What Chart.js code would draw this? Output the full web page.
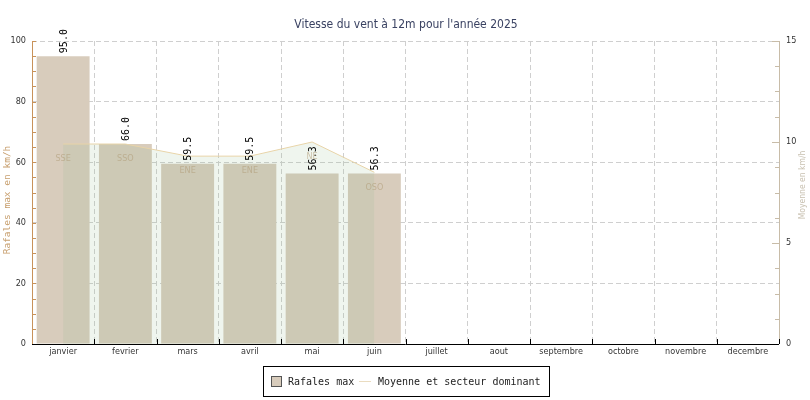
<!DOCTYPE html>
<html>
<head>
<meta charset="utf-8">
<script src="https://cdn.jsdelivr.net/npm/chart.js@4.4.1/dist/chart.umd.min.js"></script>
<style>
  body{ margin:0; background:#fff; }
  #graphe{ display:block; }
</style>
</head>
<body>
<canvas id="graphe" width="810" height="400"></canvas>
<script>
var mois = ['janvier','fevrier','mars','avril','mai','juin','juillet','aout','septembre','octobre','novembre','decembre'];
var rafalesMax = [95.0, 66.0, 59.5, 59.5, 56.3, 56.3, null, null, null, null, null, null];
var moyenne = [9.9, 9.9, 9.3, 9.3, 10.0, 8.5, null, null, null, null, null, null];
var secteurs = ['SSE','SSO','ENE','ENE','NE','OSO','','','','','',''];
var ticksRafales = [0, 20, 40, 60, 80, 100];
var ticksMoyenne = [0, 5, 10, 15];

var sansC = "'DejaVu Sans Condensed', 'DejaVu Sans', sans-serif";
var mono = "'DejaVu Sans Mono', monospace";

// tout ce que Chart.js ne fait pas tout seul : axes, petites graduations, etiquettes, legende
var habillage = {
    id: 'habillage',
    afterDatasetsDraw(chart){
        const ctx = chart.ctx;
        // valeurs des rafales, verticales au dessus des barres
        const barres = chart.getDatasetMeta(0).data;
        ctx.save();
        ctx.font = '10px ' + mono;
        ctx.fillStyle = '#000';
        ctx.textAlign = 'left';
        ctx.textBaseline = 'middle';
        barres.forEach(function(b, i){
            if(rafalesMax[i] == null) return;
            ctx.save();
            ctx.translate(b.x + 1, b.y - 3);
            ctx.rotate(-Math.PI/2);
            ctx.fillText(rafalesMax[i].toFixed(1), 0, 0);
            ctx.restore();
        });
        // secteur dominant sous la ligne de moyenne
        const pts = chart.getDatasetMeta(1).data;
        ctx.font = '9px ' + sansC;
        ctx.fillStyle = 'rgba(176,156,120,0.6)';
        ctx.textAlign = 'center';
        pts.forEach(function(p, i){
            if(moyenne[i] == null) return;
            ctx.fillText(secteurs[i], p.x, p.y + 15);
        });
        ctx.restore();
    },
    afterDraw(chart){
        const ctx = chart.ctx;
        const { left, right, top, bottom } = chart.chartArea;
        const y = chart.scales.y, y2 = chart.scales.y2, x = chart.scales.x;
        ctx.save();
        ctx.lineWidth = 1;

        // graduations gauche (vers l'interieur)
        ctx.strokeStyle = '#c8925a';
        ctx.beginPath();
        for(let v = 0; v <= 100; v += 5){
            const py = Math.round(y.getPixelForValue(v)) + 0.5;
            ctx.moveTo(left, py); ctx.lineTo(left + 4, py);
        }
        ctx.moveTo(left + 0.5, top); ctx.lineTo(left + 0.5, bottom);
        ctx.stroke();

        // graduations droite
        ctx.strokeStyle = '#c8bca8';
        ctx.beginPath();
        for(let v = 0; v <= 15; v += 1.25){
            const py = Math.round(y2.getPixelForValue(v)) + 0.5;
            const l = (v % 5 === 0) ? 7 : 4;
            ctx.moveTo(right, py); ctx.lineTo(right - l, py);
        }
        ctx.moveTo(right + 0.5, top); ctx.lineTo(right + 0.5, bottom);
        ctx.stroke();

        // axe x noir
        ctx.strokeStyle = '#000';
        ctx.beginPath();
        ctx.moveTo(left, bottom + 0.5); ctx.lineTo(right, bottom + 0.5);
        const pas = (right - left) / mois.length;
        for(let i = 1; i <= mois.length; i++){
            const px = Math.round(left + i * pas) + 0.5;
            ctx.moveTo(px, bottom); ctx.lineTo(px, bottom - 5);
        }
        ctx.stroke();

        // titre
        ctx.fillStyle = '#3a4262';
        ctx.font = '12px ' + sansC;
        ctx.textAlign = 'center';
        ctx.textBaseline = 'middle';
        ctx.fillText("Vitesse du vent \u00e0 12m pour l'ann\u00e9e 2025", 406, 25);

        // titres des axes
        ctx.save();
        ctx.translate(8, 200);
        ctx.rotate(-Math.PI/2);
        ctx.fillStyle = '#c8a070';
        ctx.font = '9.5px ' + mono;
        ctx.fillText('Rafales max en km/h', 0, 0);
        ctx.restore();
        ctx.save();
        ctx.translate(803, 185);
        ctx.rotate(-Math.PI/2);
        ctx.fillStyle = '#c8c0b0';
        ctx.font = '8.5px ' + sansC;
        ctx.fillText('Moyenne en km/h', 0, 0);
        ctx.restore();

        // legende
        ctx.strokeStyle = '#000';
        ctx.strokeRect(263.5, 366.5, 286, 30);
        ctx.fillStyle = 'rgb(216,204,188)';
        ctx.fillRect(271, 376, 10, 10);
        ctx.strokeStyle = '#555';
        ctx.strokeRect(271.5, 376.5, 10, 10);
        ctx.strokeStyle = '#eadcc0';
        ctx.beginPath();
        ctx.moveTo(359, 381.5); ctx.lineTo(371, 381.5);
        ctx.stroke();
        ctx.fillStyle = '#222';
        ctx.font = '10px ' + mono;
        ctx.textAlign = 'left';
        ctx.fillText('Rafales max', 288, 382);
        ctx.fillText('Moyenne et secteur dominant', 378, 382);
        ctx.restore();
    }
};

var grille = { color: '#cfcfcf', lineWidth: 1, drawTicks: false };
var bordure = { display: false, dash: [5, 3] };

var config = {
    type: 'bar',
    data: {
        labels: mois,
        datasets: [{
            label: 'Rafales max',
            data: rafalesMax,
            yAxisID: 'y',
            backgroundColor: 'rgb(216,204,188)',
            borderWidth: 0,
            categoryPercentage: 0.85,
            barPercentage: 1,
            order: 2
        },{
            type: 'line',
            label: 'Moyenne et secteur dominant',
            data: moyenne,
            yAxisID: 'y2',
            borderColor: '#e8d4a8',
            borderWidth: 1,
            backgroundColor: 'rgba(150,190,140,0.15)',
            fill: 'origin',
            pointRadius: 0,
            tension: 0,
            order: 1
        }]
    },
    options: {
        responsive: false,
        devicePixelRatio: 1,
        animation: false,
        layout: { padding: { top: 41, left: 0, right: 0, bottom: 36 } },
        plugins: {
            legend: { display: false },
            title: { display: false },
            tooltip: { enabled: false }
        },
        scales: {
            x: {
                z: 1,
                grid: Object.assign({ offset: true }, grille),
                border: bordure,
                ticks: { color: '#333', font: { family: sansC, size: 9 }, padding: 2, maxRotation: 0, autoSkip: false },
                afterFit(s){ s.height = 20; }
            },
            y: {
                z: 1,
                position: 'left',
                min: 0, max: 100,
                grid: grille,
                border: bordure,
                afterBuildTicks(s){ s.ticks = ticksRafales.map(function(v){ return { value: v }; }); },
                ticks: { color: '#333', font: { family: sansC, size: 9 }, padding: 6 },
                afterFit(s){ s.width = 32; }
            },
            y2: {
                position: 'right',
                min: 0, max: 15,
                grid: { display: false, drawTicks: false },
                border: { display: false },
                afterBuildTicks(s){ s.ticks = ticksMoyenne.map(function(v){ return { value: v }; }); },
                ticks: { color: '#333', font: { family: sansC, size: 9 }, padding: 7 },
                afterFit(s){ s.width = 31; }
            }
        }
    },
    plugins: [habillage]
};

var graphe = new Chart(document.getElementById('graphe'), config);
</script>
</body>
</html>
